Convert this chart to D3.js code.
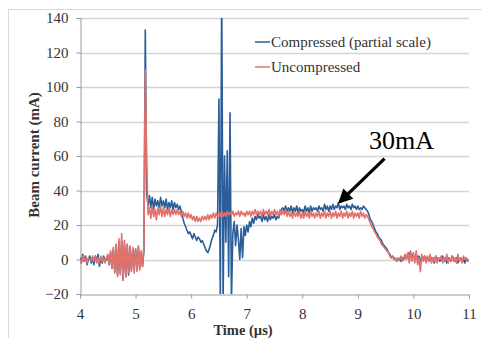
<!DOCTYPE html>
<html><head><meta charset="utf-8">
<script src="https://cdn.jsdelivr.net/npm/d3@7"></script>
<style>body{margin:0;background:#fff}svg{display:block}text{font-family:"Liberation Serif",serif;fill:#333}</style>
</head><body>
<svg id="c" width="482" height="338"></svg>
<script>
// sampling: time (µs) = sampleStart + i * sampleStep
const sampleStart = 4, sampleStep = 0.025;
const xTicks = [4,5,6,7,8,9,10,11];
const yTicks = [-20,0,20,40,60,80,100,120,140];
const seriesNames = ["Compressed (partial scale)", "Uncompressed"];
const compressed = [
 1,-2,3,-1,2,-3,0,2,-2,1,
 -3,2,-1,3,-4,1,-2,2,-1,0,
 2,-3,4,-5,6,-7,8,-9,10,-8,
 11,-12,9,-10,8,-9,7,-6,6,-5,
 6,-6,7,-5,4,-4,5,133,38,31,
 37,30,36,29,35,31,34,30,36,31,
 34,30,35,29,33,30,34,29,33,30,
 32,29,31,27,24,21,19,17,15,16,
 14,12,15,13,11,13,12,10,11,9,
 7,5,4,6,9,12,14,17,16,20,
 93,-25,160,-25,60,10,63,-10,85,-25,
 15,22,8,20,12,0,18,1,19,14,
 20,16,22,19,24,21,25,23,26,24,
 25,22,26,23,25,22,26,23,25,24,
 26,23,25,24,27,29,30,28,31,28,
 30,28,31,27,30,28,31,27,30,28,
 29,27,31,28,30,27,31,28,30,29,
 30,28,31,29,30,28,32,29,31,28,
 31,29,32,29,31,30,33,29,31,30,
 31,29,32,30,31,29,32,30,31,29,
 31,29,30,29,31,30,29,28,26,23,
 22,20,18,16,15,13,12,11,9,8,
 7,6,4,3,1,2,0,1,-1,0,
 0,-1,1,0,2,1,3,4,2,3,
 2,1,3,0,2,-1,1,0,2,-1,
 1,-1,2,0,1,-2,2,0,1,-1,
 0,2,-1,1,-2,1,0,-1,2,0,
 -1,1,-2,0,1,-1,0,-2,1,-1,
 0];
const uncompressed = [
 0,-2,2,-1,1,-2,1,0,-1,2,
 -1,2,-2,1,-2,2,-1,1,-2,1,
 3,-3,5,-5,7,-8,9,-10,12,-9,
 15,-12,11,-10,9,-8,8,-7,7,-8,
 6,-7,8,-6,5,-4,8,110,57,26,
 30,24,31,25,29,23,30,26,31,25,
 30,25,29,26,30,25,29,26,29,26,
 29,26,28,25,28,25,27,24,27,24,
 26,23,25,22,25,22,24,22,25,23,
 25,23,26,23,26,24,27,24,27,25,
 27,25,28,25,27,25,28,26,27,26,
 28,25,27,26,28,25,28,26,27,25,
 28,26,28,25,28,26,29,26,28,26,
 28,25,29,26,28,26,29,25,28,26,
 29,26,28,25,29,26,28,26,29,25,
 28,25,27,24,28,25,27,25,28,24,
 27,24,28,25,27,24,28,25,27,24,
 27,25,28,24,27,25,28,24,27,25,
 28,24,27,25,28,24,27,25,28,24,
 27,25,28,24,27,25,28,24,27,25,
 27,24,28,25,27,24,26,25,23,21,
 19,18,16,15,13,12,11,9,8,7,
 6,5,4,2,1,2,0,1,-1,1,
 0,2,-1,1,3,0,4,-2,5,-1,
 4,-2,5,-3,1,-7,3,-1,2,-2,
 2,-1,3,-2,1,-1,2,-2,1,0,
 2,-2,1,-1,3,-2,1,-1,2,-1,
 1,-2,3,-1,1,-2,2,0,1,-1,
 0];
const annotationText = "30mA";
const annotationTextAt = [9.2, 64.3];
const arrowFrom = [9.48, 58.5];
const arrowTo = [8.68, 33.5];

const colors = ["#2b5e98", "#e2716b"];
const svg = d3.select("#c");
const x = d3.scaleLinear().domain([4,11]).range([80,469]);
const y = d3.scaleLinear().domain([-20,140]).range([294,18]);

// outer chart border
svg.append("rect").attr("x",8.5).attr("y",9.5).attr("width",520).attr("height",400)
  .attr("fill","none").attr("stroke","#d9d9d9");

// gridlines
svg.append("g").selectAll("line").data(yTicks.filter(d=>d>-20)).join("line")
  .attr("x1",x(4)).attr("x2",x(11)).attr("y1",d=>Math.round(y(d))+0.5).attr("y2",d=>Math.round(y(d))+0.5)
  .attr("stroke","#d4d4d4").attr("stroke-width",1.3);

// axes
const yAxis = svg.append("g").attr("transform",`translate(${x(4)+0.5},0)`)
  .call(d3.axisLeft(y).tickValues(yTicks).tickFormat(d3.format("d")).tickSize(4).tickPadding(8));
const xAxis = svg.append("g").attr("transform",`translate(0,${Math.round(y(-20))+0.5})`)
  .call(d3.axisBottom(x).tickValues(xTicks).tickFormat(d3.format("d")).tickSize(4).tickPadding(10));
[yAxis,xAxis].forEach(a=>{
  a.select(".domain").attr("stroke","#9a9a9a");
  a.selectAll(".tick line").attr("stroke","#9a9a9a");
  a.selectAll("text").style("font-family","Liberation Serif").style("font-size","15px").attr("fill","#333");
});

// clip
svg.append("clipPath").attr("id","pc").append("rect")
  .attr("x",x(4)).attr("y",y(140)).attr("width",x(11)-x(4)).attr("height",y(-20)-y(140));

const line = d3.line().x((d,i)=>x(sampleStart+i*sampleStep)).y(d=>y(d));
const plot = svg.append("g").attr("clip-path","url(#pc)");
[compressed, uncompressed].forEach((s,k)=>{
  plot.append("path").datum(s).attr("d",line).attr("fill","none")
    .attr("stroke",colors[k]).attr("stroke-width",1.6).attr("stroke-linejoin","round");
});

// legend
const leg = svg.append("g");
seriesNames.forEach((n,k)=>{
  const ly = 42 + k*25;
  leg.append("line").attr("x1",255).attr("x2",270).attr("y1",ly).attr("y2",ly)
    .attr("stroke",colors[k]).attr("stroke-width",1.5);
  leg.append("text").attr("x",271).attr("y",ly+5).style("font-size","15px").text(n);
});

// axis titles
svg.append("text").attr("transform","translate(39,155) rotate(-90)").attr("text-anchor","middle")
  .style("font-size","15px").style("font-weight","bold").text("Beam current (mA)");
svg.append("text").attr("x",243).attr("y",335).attr("text-anchor","middle")
  .style("font-size","14.5px").style("font-weight","bold").text("Time (µs)");

// annotation
svg.append("defs").append("marker").attr("id","ah").attr("viewBox","0 0 10 10")
  .attr("refX",8).attr("refY",5).attr("markerWidth",5).attr("markerHeight",4.5).attr("orient","auto")
  .attr("markerUnits","strokeWidth")
  .append("path").attr("d","M0,0 L10,5 L0,10 z").attr("fill","#000");
svg.append("line").attr("x1",x(arrowFrom[0])).attr("y1",y(arrowFrom[1]))
  .attr("x2",x(arrowTo[0])).attr("y2",y(arrowTo[1]))
  .attr("stroke","#000").attr("stroke-width",3.2).attr("marker-end","url(#ah)");
svg.append("text").attr("x",x(annotationTextAt[0])).attr("y",y(annotationTextAt[1]))
  .style("font-size","26px").attr("fill","#000").style("fill","#000").text(annotationText);
</script>
</body></html>
